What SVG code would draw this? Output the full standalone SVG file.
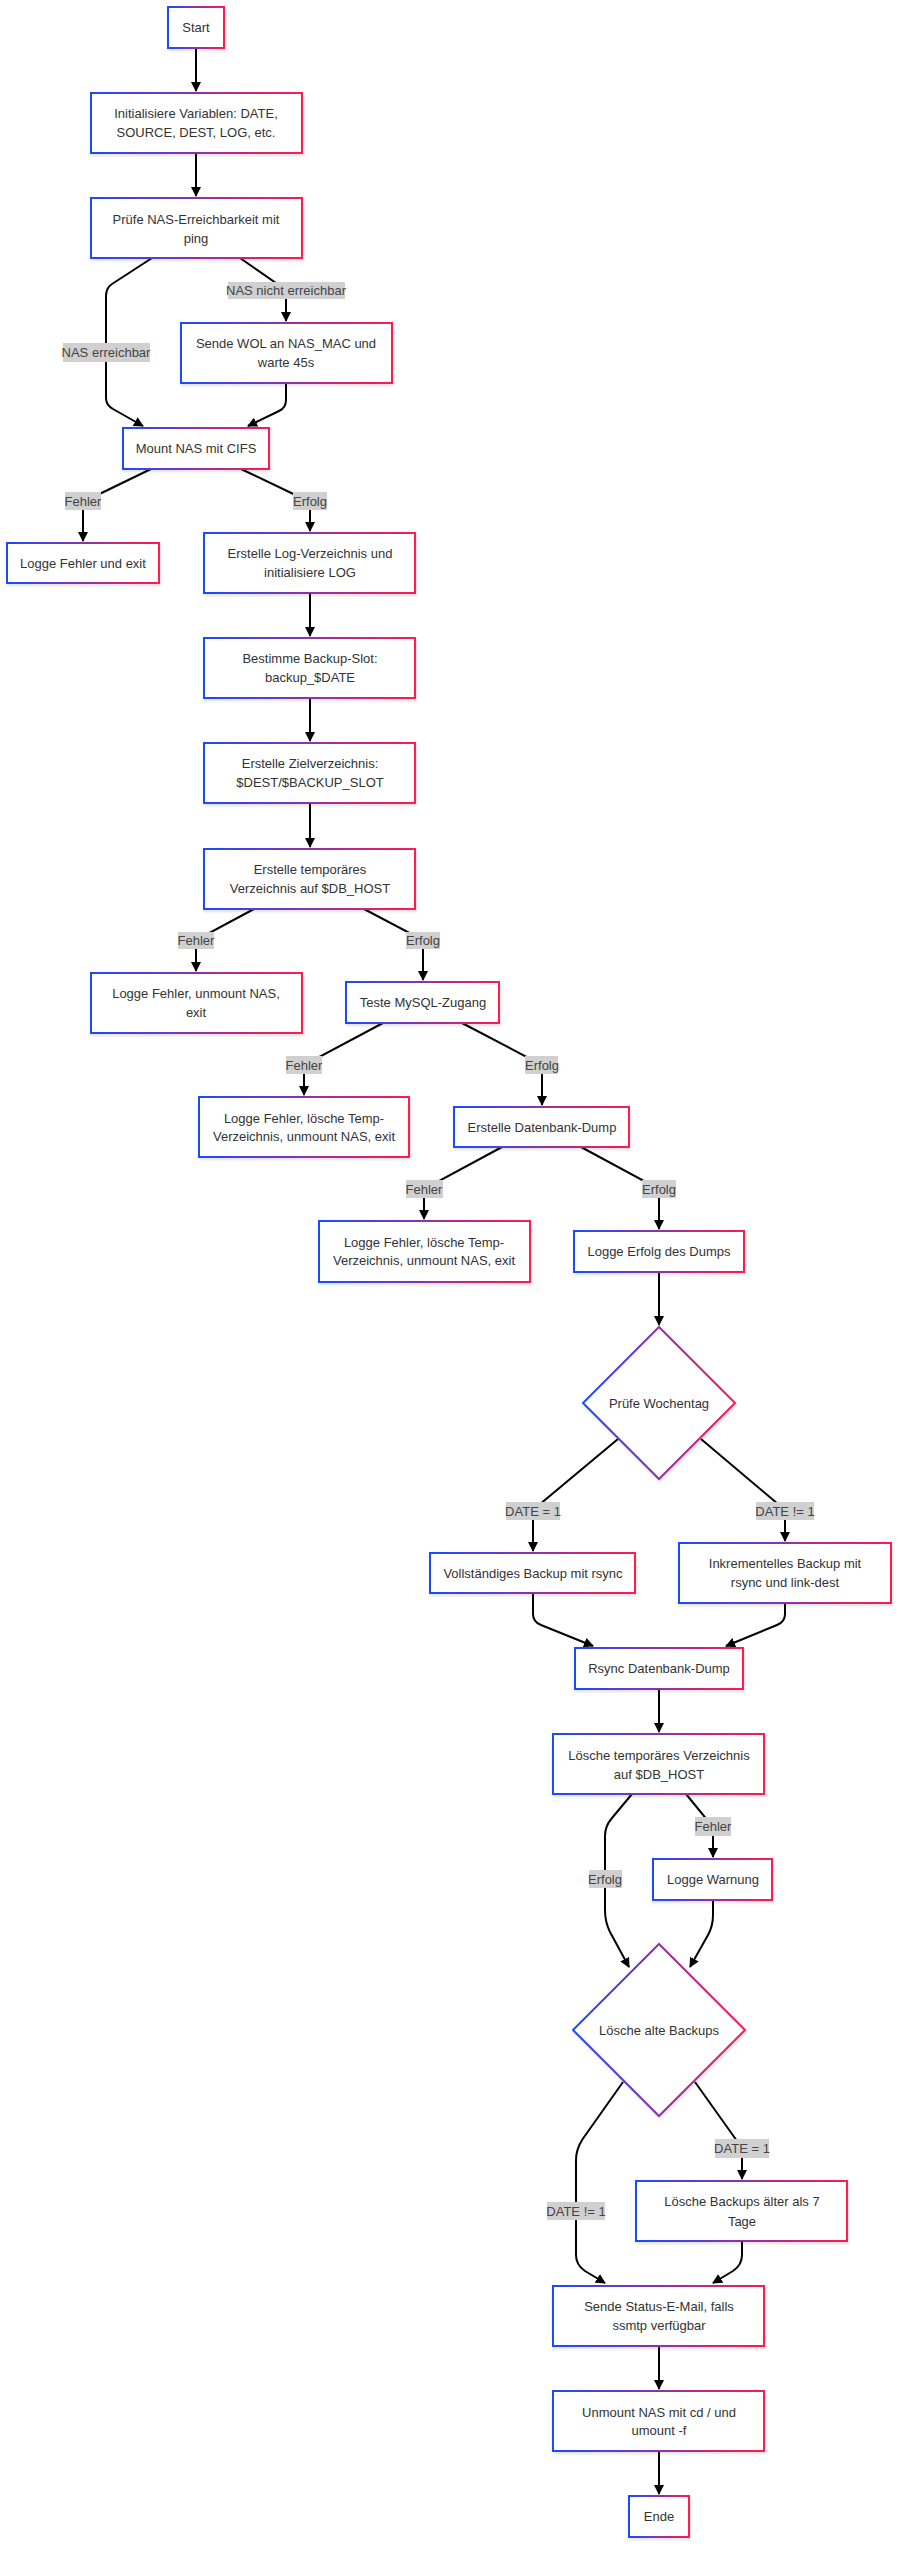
<svg xmlns="http://www.w3.org/2000/svg" width="903" height="2560" viewBox="0 0 903 2560">
<defs>
<linearGradient id="grad" x1="0" y1="0" x2="1" y2="0">
<stop offset="0" stop-color="#1a4bff"/>
<stop offset="1" stop-color="#ff1a50"/>
</linearGradient>
<filter id="shadow" x="-10%" y="-10%" width="130%" height="140%">
<feDropShadow dx="1" dy="2" stdDeviation="1.5" flood-color="#000" flood-opacity="0.12"/>
</filter>
<marker id="arrow" viewBox="0 0 10 10" refX="9" refY="5" markerWidth="10" markerHeight="10" markerUnits="userSpaceOnUse" orient="auto">
<path d="M0,0 L10,5 L0,10 z" fill="#000"/>
</marker>
<style>
.node rect, .node polygon { fill: #fff; stroke: url(#grad); stroke-width: 2; filter: url(#shadow); }
.node text { font-family: "Liberation Sans", Arial, sans-serif; font-size: 13px; fill: #333; text-anchor: middle; dominant-baseline: central; }
.edge { fill: none; stroke: #000; stroke-width: 2; marker-end: url(#arrow); }
.lbl rect { fill: #d0d0d0; }
.lbl text { font-family: "Liberation Sans", Arial, sans-serif; font-size: 13px; fill: #444; text-anchor: middle; dominant-baseline: central; }
</style>
</defs>
<rect x="0" y="0" width="903" height="2560" fill="#fff"/>

<g id="connectors">
<path class="edge" d="M196,48 L196,91"/>
<path class="edge" d="M196,153 L196,196"/>
<path class="edge" d="M152,258 L112,284 Q106,288 106,296 L106,398 Q106,405 113,409 L143,426"/>
<path class="edge" d="M240,258 L286,290 L286,321"/>
<path class="edge" d="M286,383 L286,400 Q286,408 279,411 L248,426"/>
<path class="edge" d="M151,469 L83,502 L83,541"/>
<path class="edge" d="M241,469 L310,502 L310,531"/>
<path class="edge" d="M310,593 L310,636"/>
<path class="edge" d="M310,698 L310,741"/>
<path class="edge" d="M310,803 L310,847"/>
<path class="edge" d="M254,909 L196,940 L196,971"/>
<path class="edge" d="M364,909 L423,940 L423,980"/>
<path class="edge" d="M383,1023 L304,1065 L304,1095"/>
<path class="edge" d="M462,1023 L542,1065 L542,1105"/>
<path class="edge" d="M502,1147 L424,1189 L424,1219"/>
<path class="edge" d="M581,1147 L659,1189 L659,1229"/>
<path class="edge" d="M659,1272 L659,1325"/>
<path class="edge" d="M618,1439 L533,1510 L533,1551"/>
<path class="edge" d="M701,1439 L785,1510 L785,1541"/>
<path class="edge" d="M533,1593 L533,1614 Q533,1622 541,1625 L593,1646"/>
<path class="edge" d="M785,1603 L785,1614 Q785,1622 777,1625 L726,1646"/>
<path class="edge" d="M659,1689 L659,1732"/>
<path class="edge" d="M632,1794 L612,1818 Q605,1826 605,1836 L605,1910 Q605,1922 610,1932 L629,1967"/>
<path class="edge" d="M686,1794 L713,1827 L713,1857"/>
<path class="edge" d="M713,1900 L713,1915 Q713,1926 708,1935 L690,1967"/>
<path class="edge" d="M695,2082 L742,2148 L742,2179"/>
<path class="edge" d="M623,2082 L582,2140 Q576,2150 576,2160 L576,2255 Q576,2265 585,2271 L605,2283"/>
<path class="edge" d="M742,2241 L742,2255 Q742,2265 733,2271 L713,2283"/>
<path class="edge" d="M659,2346 L659,2389"/>
<path class="edge" d="M659,2451 L659,2494"/>
</g>

<g id="edge-labels">
<g class="lbl"><rect x="63" y="343" width="87" height="19"/><text x="106" y="352.5">NAS erreichbar</text></g>
<g class="lbl"><rect x="228" y="282" width="117" height="17"/><text x="286" y="290.5">NAS nicht erreichbar</text></g>
<g class="lbl"><rect x="65" y="492" width="36" height="18"/><text x="83" y="501">Fehler</text></g>
<g class="lbl"><rect x="293" y="492" width="34" height="18"/><text x="310" y="501">Erfolg</text></g>
<g class="lbl"><rect x="178" y="932" width="36" height="17"/><text x="196" y="940.5">Fehler</text></g>
<g class="lbl"><rect x="406" y="932" width="34" height="17"/><text x="423" y="940.5">Erfolg</text></g>
<g class="lbl"><rect x="286" y="1056" width="36" height="18"/><text x="304" y="1065">Fehler</text></g>
<g class="lbl"><rect x="525" y="1056" width="33" height="18"/><text x="542" y="1065">Erfolg</text></g>
<g class="lbl"><rect x="406" y="1180" width="37" height="18"/><text x="424" y="1189">Fehler</text></g>
<g class="lbl"><rect x="642" y="1180" width="34" height="18"/><text x="659" y="1189">Erfolg</text></g>
<g class="lbl"><rect x="506" y="1502" width="54" height="18"/><text x="533" y="1511">DATE = 1</text></g>
<g class="lbl"><rect x="756" y="1502" width="58" height="18"/><text x="785" y="1511">DATE != 1</text></g>
<g class="lbl"><rect x="589" y="1870" width="33" height="18"/><text x="605" y="1879">Erfolg</text></g>
<g class="lbl"><rect x="695" y="1817" width="36" height="19"/><text x="713" y="1826.5">Fehler</text></g>
<g class="lbl"><rect x="715" y="2139" width="54" height="19"/><text x="742" y="2148.5">DATE = 1</text></g>
<g class="lbl"><rect x="547" y="2202" width="58" height="18"/><text x="576" y="2211">DATE != 1</text></g>
</g>

<g id="start" class="node"><rect x="168" y="7" width="56" height="41"/><text x="196" y="27.5">Start</text></g>
<g id="init" class="node"><rect x="91" y="93" width="211" height="60"/><text x="196" y="113.7">Initialisiere Variablen: DATE,</text><text x="196" y="132.3">SOURCE, DEST, LOG, etc.</text></g>
<g id="ping" class="node"><rect x="91" y="198" width="211" height="60"/><text x="196" y="219">Prüfe NAS-Erreichbarkeit mit</text><text x="196" y="238">ping</text></g>
<g id="wol" class="node"><rect x="181" y="323" width="211" height="60"/><text x="286" y="343">Sende WOL an NAS_MAC und</text><text x="286" y="362">warte 45s</text></g>
<g id="mount" class="node"><rect x="123" y="428" width="146" height="41"/><text x="196" y="448.5">Mount NAS mit CIFS</text></g>
<g id="failmount" class="node"><rect x="7" y="543" width="152" height="40"/><text x="83" y="563">Logge Fehler und exit</text></g>
<g id="logdir" class="node"><rect x="204" y="533" width="211" height="60"/><text x="310" y="553">Erstelle Log-Verzeichnis und</text><text x="310" y="572">initialisiere LOG</text></g>
<g id="slot" class="node"><rect x="204" y="638" width="211" height="60"/><text x="310" y="658">Bestimme Backup-Slot:</text><text x="310" y="677">backup_$DATE</text></g>
<g id="dest" class="node"><rect x="204" y="743" width="211" height="60"/><text x="310" y="763">Erstelle Zielverzeichnis:</text><text x="310" y="782">$DEST/$BACKUP_SLOT</text></g>
<g id="tmp" class="node"><rect x="204" y="849" width="211" height="60"/><text x="310" y="869">Erstelle temporäres</text><text x="310" y="888">Verzeichnis auf $DB_HOST</text></g>
<g id="failtmp" class="node"><rect x="91" y="973" width="211" height="60"/><text x="196" y="993">Logge Fehler, unmount NAS,</text><text x="196" y="1012">exit</text></g>
<g id="mysql" class="node"><rect x="346" y="982" width="153" height="41"/><text x="423" y="1002.5">Teste MySQL-Zugang</text></g>
<g id="failmysql" class="node"><rect x="199" y="1097" width="210" height="60"/><text x="304" y="1118">Logge Fehler, lösche Temp-</text><text x="304" y="1136">Verzeichnis, unmount NAS, exit</text></g>
<g id="dump" class="node"><rect x="454" y="1107" width="175" height="40"/><text x="542" y="1127">Erstelle Datenbank-Dump</text></g>
<g id="faildump" class="node"><rect x="319" y="1221" width="211" height="61"/><text x="424" y="1242">Logge Fehler, lösche Temp-</text><text x="424" y="1260">Verzeichnis, unmount NAS, exit</text></g>
<g id="okdump" class="node"><rect x="574" y="1231" width="170" height="41"/><text x="659" y="1251.5">Logge Erfolg des Dumps</text></g>
<g id="weekday" class="node"><polygon points="659,1327 735,1403 659,1479 583,1403"/><text x="659" y="1403">Prüfe Wochentag</text></g>
<g id="full" class="node"><rect x="430" y="1553" width="205" height="40"/><text x="533" y="1573">Vollständiges Backup mit rsync</text></g>
<g id="incr" class="node"><rect x="679" y="1543" width="212" height="60"/><text x="785" y="1563">Inkrementelles Backup mit</text><text x="785" y="1582">rsync und link-dest</text></g>
<g id="rsyncdump" class="node"><rect x="575" y="1648" width="168" height="41"/><text x="659" y="1668.5">Rsync Datenbank-Dump</text></g>
<g id="rmtmp" class="node"><rect x="553" y="1734" width="211" height="60"/><text x="659" y="1755">Lösche temporäres Verzeichnis</text><text x="659" y="1774">auf $DB_HOST</text></g>
<g id="warn" class="node"><rect x="653" y="1859" width="119" height="41"/><text x="713" y="1879.5">Logge Warnung</text></g>
<g id="cleanup" class="node"><polygon points="659,1944 745,2030 659,2116 573,2030"/><text x="659" y="2030">Lösche alte Backups</text></g>
<g id="old7" class="node"><rect x="636" y="2181" width="211" height="60"/><text x="742" y="2201">Lösche Backups älter als 7</text><text x="742" y="2221">Tage</text></g>
<g id="mail" class="node"><rect x="553" y="2286" width="211" height="60"/><text x="659" y="2306">Sende Status-E-Mail, falls</text><text x="659" y="2325">ssmtp verfügbar</text></g>
<g id="umount" class="node"><rect x="553" y="2391" width="211" height="60"/><text x="659" y="2412">Unmount NAS mit cd / und</text><text x="659" y="2430">umount -f</text></g>
<g id="end" class="node"><rect x="629" y="2496" width="60" height="41"/><text x="659" y="2516.5">Ende</text></g>
</svg>
